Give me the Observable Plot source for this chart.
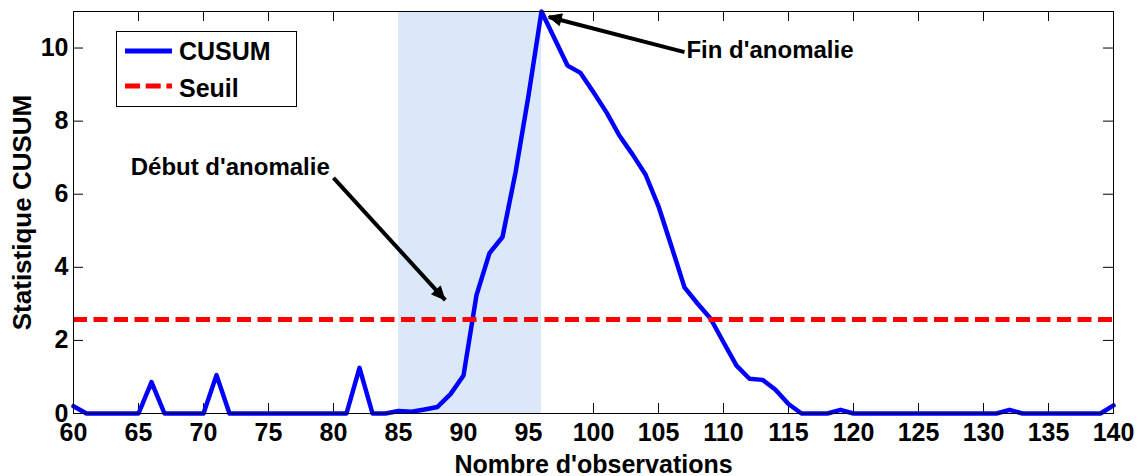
<!DOCTYPE html>
<html>
<head>
<meta charset="utf-8">
<script src="https://cdn.jsdelivr.net/npm/d3@7"></script>
<script src="https://cdn.jsdelivr.net/npm/@observablehq/plot@0.6"></script>
<style>
  html, body { margin: 0; padding: 0; background: #fff; }
  #chart { width: 1144px; height: 476px; }
  #chart svg [aria-label="x-axis tick label"],
  #chart svg [aria-label="y-axis tick label"] { font-size: 25px !important; font-weight: bold !important; }
</style>
</head>
<body>
<div id="chart"></div>
<script>
// ---- Data ----
const observations = [60,61,62,63,64,65,66,67,68,69,70,71,72,73,74,75,76,77,78,79,80,
  81,82,83,84,85,86,87,88,89,90,91,92,93,94,95,96,97,98,99,100,
  101,102,103,104,105,106,107,108,109,110,111,112,113,114,115,116,117,118,119,120,
  121,122,123,124,125,126,127,128,129,130,131,132,133,134,135,136,137,138,139,140];
const cusum = [0.2,0,0,0,0,0,0.86,0,0,0,0,1.05,0,0,0,0,0,0,0,0,0,
  0,1.25,0,0,0.07,0.05,0.11,0.18,0.53,1.04,3.24,4.39,4.83,6.59,8.7,11.0,10.26,9.52,9.32,8.79,
  8.24,7.6,7.09,6.54,5.67,4.57,3.45,3.01,2.6,1.95,1.31,0.95,0.92,0.65,0.26,0,0,0,0.1,0,
  0,0,0,0,0,0,0,0,0,0,0,0.1,0,0,0,0,0,0,0,0.22];
const seuil = 2.57;
const anomalyStart = 85;
const anomalyEnd = 96;
const xTicks = [60,65,70,75,80,85,90,95,100,105,110,115,120,125,130,135,140];
const yTicks = [0,2,4,6,8,10];
const xDomain = [60, 140];
const yDomain = [0, 11];

const annotationLabels = ["Début d'anomalie", "Fin d'anomalie"];
const annotationTextX = [64.4, 107.15];
const annotationTextY = [6.73, 9.95];
const arrowFromX = [80.0, 107.0];
const arrowFromY = [6.45, 9.89];
const arrowToX = [88.6, 96.56];
const arrowToY = [3.1, 10.85];

const legendLabels = ["CUSUM", "Seuil"];
const xLabel = "Nombre d'observations";
const yLabel = "Statistique CUSUM";

// ---- Build tables ----
const series = observations.map((x, i) => ({x, y: cusum[i]}));
const annotations = annotationLabels.map((t, i) => ({text: t, x: annotationTextX[i], y: annotationTextY[i]}));
const arrows = arrowFromX.map((_, i) => ({x1: arrowFromX[i], y1: arrowFromY[i], x2: arrowToX[i], y2: arrowToY[i]}));

const W = 1144, H = 476;
const mL = 73, mR = 31, mT = 11, mB = 63;
const plotW = W - mL - mR, plotH = H - mT - mB;
const FONT = "'Liberation Sans', Arial, Helvetica, sans-serif";

const chart = Plot.plot({
  width: W, height: H,
  marginLeft: mL, marginRight: mR, marginTop: mT, marginBottom: mB,
  style: {fontFamily: FONT, fontSize: "24px", fontWeight: "bold", background: "white", color: "black", overflow: "visible"},
  x: {domain: xDomain},
  y: {domain: yDomain},
  marks: [
    // inward ticks
    Plot.tickX(xTicks, {x: d => d, stroke: "black", strokeWidth: 1, insetTop: plotH - 10}),
    Plot.tickX(xTicks, {x: d => d, stroke: "black", strokeWidth: 1, insetBottom: plotH - 10}),
    Plot.tickY(yTicks, {y: d => d, stroke: "black", strokeWidth: 1, insetRight: plotW - 10}),
    Plot.tickY(yTicks, {y: d => d, stroke: "black", strokeWidth: 1, insetLeft: plotW - 10}),
    // anomaly shading
    Plot.rect([{x1: anomalyStart, x2: anomalyEnd, y1: yDomain[0], y2: yDomain[1]}],
      {x1: "x1", x2: "x2", y1: "y1", y2: "y2", fill: "#dbe8f8"}),
    // CUSUM
    Plot.line(series, {x: "x", y: "y", stroke: "#0000ff", strokeWidth: 4.5, strokeLinejoin: "round"}),
    // threshold
    Plot.ruleY([seuil], {stroke: "#ff0000", strokeWidth: 5, strokeDasharray: "14,6.5"}),
    // annotation arrow shafts (heads added below as filled triangles)
    Plot.link(arrows, {x1: "x1", y1: "y1", x2: "x2", y2: "y2", stroke: "black", strokeWidth: 4}),
    Plot.text(annotations, {x: "x", y: "y", text: "text", textAnchor: "start", fontSize: 24, fontWeight: "bold", fill: "black"}),
    // axes
    Plot.axisX(xTicks, {tickSize: 0, tickPadding: 10, label: null, fontSize: 25, fontWeight: "bold"}),
    Plot.axisY(yTicks, {tickSize: 0, tickPadding: 5, label: null, fontSize: 25, fontWeight: "bold"}),
    Plot.text([xLabel], {frameAnchor: "bottom", lineAnchor: "middle", textAnchor: "middle", dy: 51, fontSize: 25, fontWeight: "bold", fill: "black"}),
    Plot.text([yLabel], {frameAnchor: "left", lineAnchor: "middle", textAnchor: "middle", dx: -51, rotate: -90, fontSize: 26, fontWeight: "bold", fill: "black"}),
    Plot.frame({stroke: "black", strokeWidth: 1})
  ]
});

document.getElementById("chart").appendChild(chart);

const svg = d3.select(chart);

// ---- Filled arrowheads, positioned through Plot's own scales ----
const sx = chart.scale("x"), sy = chart.scale("y");
const headLen = 13, headHalf = 6;
const heads = svg.append("g").attr("class", "arrowheads");
arrows.forEach(a => {
  const X1 = sx.apply(a.x1), Y1 = sy.apply(a.y1), X2 = sx.apply(a.x2), Y2 = sy.apply(a.y2);
  const L = Math.hypot(X2 - X1, Y2 - Y1), ux = (X2 - X1) / L, uy = (Y2 - Y1) / L;
  const bx = X2 - ux * headLen, by = Y2 - uy * headLen;
  const pts = [[X2, Y2], [bx - uy * headHalf, by + ux * headHalf], [bx + uy * headHalf, by - ux * headHalf]];
  heads.append("polygon").attr("points", pts.map(p => p.join(",")).join(" "))
    .attr("fill", "black").attr("stroke", "black").attr("stroke-width", 1).attr("stroke-linejoin", "miter");
});

// ---- Legend (inside the axes, top-left) ----
const lg = svg.append("g").attr("class", "legend").attr("text-anchor", "start");
lg.append("rect").attr("x", 116.5).attr("y", 31.5).attr("width", 180).attr("height", 75)
  .attr("fill", "white").attr("stroke", "black").attr("stroke-width", 1);
lg.append("line").attr("x1", 125).attr("x2", 172).attr("y1", 51).attr("y2", 51)
  .attr("stroke", "#0000ff").attr("stroke-width", 5);
lg.append("line").attr("x1", 125).attr("x2", 172).attr("y1", 86).attr("y2", 86)
  .attr("stroke", "#ff0000").attr("stroke-width", 5).attr("stroke-dasharray", "15,5.7");
lg.append("text").attr("x", 179).attr("y", 51).attr("dy", "0.35em").text(legendLabels[0])
  .attr("text-anchor", "start")
  .attr("font-size", 25).attr("font-weight", "bold").attr("font-family", FONT).attr("fill", "black");
lg.append("text").attr("x", 179).attr("y", 88).attr("dy", "0.35em").text(legendLabels[1])
  .attr("text-anchor", "start")
  .attr("font-size", 25).attr("font-weight", "bold").attr("font-family", FONT).attr("fill", "black");
</script>
</body>
</html>
